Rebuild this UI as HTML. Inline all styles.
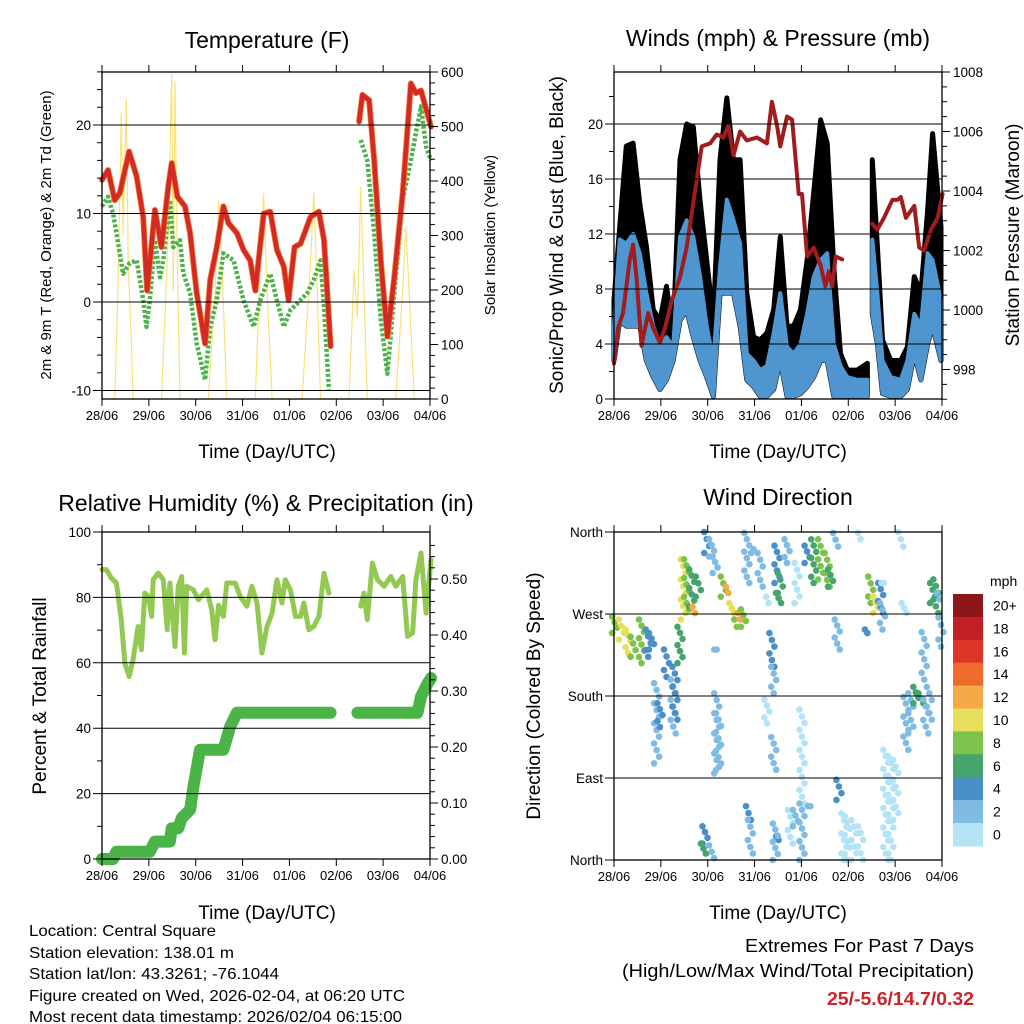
<!DOCTYPE html>
<html><head><meta charset="utf-8"><title>Weather station charts</title>
<style>
html,body{margin:0;padding:0;background:#fff;}
svg{display:block;font-family:"Liberation Sans",Arial,sans-serif;}
</style></head>
<body>
<svg id="chart" width="1024" height="1024" viewBox="0 0 1024 1024" xmlns="http://www.w3.org/2000/svg">
<g id="static">
<text x="267" y="48" font-size="23" text-anchor="middle">Temperature (F)</text>
<text x="778" y="46" font-size="23" text-anchor="middle">Winds (mph) &amp; Pressure (mb)</text>
<text x="266" y="511" font-size="23" text-anchor="middle">Relative Humidity (%) &amp; Precipitation (in)</text>
<text x="778" y="505" font-size="23" text-anchor="middle">Wind Direction</text>
<text x="267" y="458" font-size="19" text-anchor="middle">Time (Day/UTC)</text>
<text x="778" y="458" font-size="19" text-anchor="middle">Time (Day/UTC)</text>
<text x="267" y="919" font-size="19" text-anchor="middle">Time (Day/UTC)</text>
<text x="778" y="919" font-size="19" text-anchor="middle">Time (Day/UTC)</text>
<text transform="translate(51,235) rotate(-90)" font-size="15" text-anchor="middle">2m &amp; 9m T (Red, Orange) &amp; 2m Td (Green)</text>
<text transform="translate(495,235) rotate(-90)" font-size="15" text-anchor="middle">Solar Insolation (Yellow)</text>
<text transform="translate(563,235) rotate(-90)" font-size="19" text-anchor="middle">Sonic/Prop Wind &amp; Gust (Blue, Black)</text>
<text transform="translate(1019,235) rotate(-90)" font-size="19" text-anchor="middle">Station Pressure (Maroon)</text>
<text transform="translate(46,696) rotate(-90)" font-size="19" text-anchor="middle">Percent &amp; Total Rainfall</text>
<text transform="translate(540,696) rotate(-90)" font-size="19" text-anchor="middle">Direction (Colored By Speed)</text>
<g font-size="16">
<text x="29" y="936" textLength="187" lengthAdjust="spacingAndGlyphs">Location: Central Square</text>
<text x="29" y="958" textLength="205" lengthAdjust="spacingAndGlyphs">Station elevation: 138.01 m</text>
<text x="29" y="979" textLength="250" lengthAdjust="spacingAndGlyphs">Station lat/lon: 43.3261; -76.1044</text>
<text x="29" y="1001" textLength="376" lengthAdjust="spacingAndGlyphs">Figure created on Wed, 2026-02-04, at 06:20 UTC</text>
<text x="29" y="1022" textLength="373" lengthAdjust="spacingAndGlyphs">Most recent data timestamp: 2026/02/04 06:15:00</text>
</g>
<g font-size="18">
<text x="745" y="952" textLength="229" lengthAdjust="spacingAndGlyphs">Extremes For Past 7 Days</text>
<text x="622" y="977" textLength="352" lengthAdjust="spacingAndGlyphs">(High/Low/Max Wind/Total Precipitation)</text>
<text x="827" y="1005" textLength="147" lengthAdjust="spacingAndGlyphs" fill="#cc2229" font-weight="bold">25/-5.6/14.7/0.32</text>
</g>
</g>
</svg>
<script>
// ---------- data ----------
const dayLabels = ["28/06","29/06","30/06","31/06","01/06","02/06","03/06","04/06"];
// temperature (hours since start, degF)
const tempHours = [0,3.1,6.5,9.1,13.9,17.7,21.1,23.1,27.1,30.5,33.9,35.7,38.6,42.5,45.1,48.5,52.8,55.4,58.8,62.2,64.8,69.1,72.5,75.9,78.5,82.8,86.2,89.6,93.1,95.6,98.6,101.7,106.8,111.1,113.7,117.1,null,131.7,133.4,136.8,139.4,142.8,146.2,149.7,154.0,158.2,160.8,163.4,168.5];
const tempValues = [13.8,14.9,11.5,12.3,17.0,14.2,9.6,1.3,10.4,6.2,13.0,15.7,11.9,10.8,7.8,1.0,-4.7,2.5,6.2,10.8,8.9,7.8,5.9,4.7,1.3,10.0,10.2,5.9,4.0,0.2,6.2,6.6,9.6,10.2,7.0,-5.0,null,20.4,23.4,22.8,16.0,4.7,-3.9,2.8,12.3,24.7,23.6,23.9,19.8];
const dewHours = [0,3.1,5.7,9.1,10.8,14.2,17.7,21.1,22.8,24.5,27.1,29.7,31.4,34.8,36.5,39.9,41.7,45.1,48.5,52.8,55.4,58.8,62.2,67.4,72.5,77.7,81.1,86.2,89.6,93.1,96.5,99.9,105.1,108.5,111.9,113.7,116.2,null,132.5,135.9,139.4,142.8,146.2,149.7,154.0,158.2,160.8,163.4,166.0,168.5];
const dewValues = [10.8,11.9,10.0,5.5,3.2,4.4,4.7,0.2,-2.8,0.2,7.0,2.8,4.7,11.5,6.2,7.0,3.2,1.0,-4.7,-8.8,-2.8,0.2,5.5,4.7,0.2,-2.8,0.2,3.2,0.2,-2.8,-0.9,-0.2,1.0,2.5,4.7,-0.5,-9.9,null,18.3,16.0,7.8,-2.0,-8.1,1.0,11.5,16.0,19.1,22.1,17.5,16.0];
const solarHours = [0,6.5,8.2,9.9,10.8,12.5,13.4,15.1,15.9,30.5,32.2,33.9,35.7,36.5,37.4,38.6,39.9,54.5,58.0,59.7,61.4,63.9,78.5,81.1,82.8,84.5,87.1,102.5,106.8,108.5,110.2,111.9,126.5,129.1,130.8,132.5,134.2,135.9,150.5,154.0,155.6,157.3,159.9,168];
const solarValues = [0,0,200,525,300,549,250,100,0,0,150,300,598,200,583,250,0,0,200,365,250,0,0,250,378,200,0,0,250,378,200,0,0,236,150,389,200,0,0,200,316,200,0,0];
// winds
const windHours = [0,2.9,6.3,9.8,13.2,16.6,20.1,23.5,26.9,30.3,33.8,37.2,40.6,44.1,47.5,50.9,54.3,57.8,61.2,64.6,68.0,71.5,74.9,78.3,81.8,85.2,88.6,92.0,95.5,98.9,102.3,105.8,109.2,112.6,116.0,119.5,124.6,129.8,null,132.3,134.9,137.5,141.8,146.9,150.3,153.8,157.2,160.6,163.2,167.5];
const gustHigh = [7.2,12.5,18.4,18.6,14.2,11.1,6.5,5.7,8.2,4.8,17.4,20.0,19.8,14.4,10.1,5.7,17.4,21.9,17.4,17.4,7.7,4.5,4.3,4.8,6.5,11.8,5.3,5.3,6.5,10.1,15.0,20.3,18.6,9.6,3.3,2.1,2.1,2.6,null,17.4,11.1,4.3,2.8,2.8,3.8,8.9,7.7,13.7,19.3,12.5];
const windHigh = [5.3,11.6,11.3,12.0,10.6,7.7,5.3,4.0,4.5,3.8,11.8,13.0,11.8,8.9,5.3,2.8,9.6,14.5,13.0,11.3,3.3,2.8,2.1,2.4,4.8,7.7,3.8,3.3,4.0,6.2,8.9,10.1,10.6,4.0,2.4,1.6,1.4,1.4,null,11.6,7.7,2.8,1.6,1.4,2.8,6.2,5.3,10.6,10.1,7.2];
const windLow = [2.8,5.7,5.3,5.3,5.3,2.8,1.6,0.7,1.4,2.8,5.7,6.5,4.5,2.8,1.6,0.2,7.7,7.7,7.7,5.3,1.4,0.9,0.2,0.2,0.7,2.8,0.2,0.2,0.4,0.9,1.6,2.8,2.8,0.2,0.2,0.2,0.2,0.2,null,6.2,4.0,0.4,0.2,0.2,0.7,3.3,1.4,4.0,5.3,2.8];
const presHours = [0,2.1,4.6,8.1,9.8,11.5,14.1,17.5,20.1,23.5,26.1,29.5,33.8,37.2,40.6,44.9,49.2,52.6,56.1,58.6,61.2,64.6,68.0,73.2,78.3,80.9,83.5,85.2,88.6,91.2,94.6,96.3,98.9,102.3,105.8,108.3,110.0,111.8,113.5,116.9,null,132.3,134.9,138.3,142.6,145.2,146.9,149.5,153.8,156.3,158.9,162.3,165.8,168.3];
const presValues = [998.2,999.4,999.9,1001.7,1002.2,1001.1,998.8,999.9,999.4,998.9,999.4,1000.3,1001.1,1002.1,1003.6,1005.5,1005.6,1005.9,1005.8,1006.2,1005.2,1006.0,1005.7,1005.8,1005.6,1007.0,1006.2,1005.5,1006.5,1006.4,1003.9,1003.9,1001.8,1002.1,1001.5,1000.8,1001.3,1000.8,1001.8,1001.7,null,1002.9,1002.7,1003.1,1003.7,1003.7,1003.8,1003.1,1003.5,1002.1,1002.0,1002.7,1003.1,1003.9];
// humidity & rain
const rhHours = [0,2.2,4.8,7.4,9.9,11.7,13.9,15.9,18.5,20.2,21.9,23.7,25.4,26.2,28.8,31.4,33.4,34.8,37.4,39.1,40.8,42.2,43.4,46.8,49.4,53.7,56.2,57.9,59.7,62.2,63.9,68.2,70.8,74.2,76.8,79.4,81.9,84.5,87.1,89.6,92.2,93.9,96.5,99.1,101.7,103.4,105.9,108.5,111.1,113.7,116.2,null,132.5,134.2,135.9,138.5,141.1,144.5,147.9,150.5,154.0,156.5,159.1,160.8,163.4,166.0,168.5];
const rhValues = [88.5,88.5,85.9,84.4,73.2,59.9,55.8,60.9,71.1,64.0,81.3,80.3,74.2,85.4,87.4,85.4,70.1,84.4,65.0,83.4,86.4,63.0,83.4,82.3,79.3,82.3,76.2,67.0,77.6,74.2,84.4,84.4,80.3,77.3,83.4,78.3,63.0,71.1,75.2,85.4,78.3,85.4,82.3,74.2,74.2,78.3,70.1,71.1,74.2,87.4,81.3,null,77.3,81.3,73.2,90.5,85.4,83.4,86.4,83.4,86.4,68.1,69.1,85.4,93.6,75.2,91.5];
const rainHours = [0,5.7,7.4,24.5,27.1,34.8,35.7,39.1,40.8,45.1,46.8,50.2,62.2,65.6,69.1,117.1,null,130.8,161.6,163.4,166.8,168.5];
const rainValues = [0,0,0.013,0.013,0.031,0.031,0.055,0.055,0.073,0.088,0.129,0.195,0.195,0.236,0.261,0.261,null,0.261,0.261,0.29,0.314,0.323];
// wind direction clusters: hour, dir range (deg), speed (mph)
const dirHours = [0.3,3.8,7.2,9.8,14.1,17.5,19.2,21.8,23.5,26.9,30.3,31.2,33.8,35.5,37.2,39.8,41.5,43.2,47.5,50.0,51.8,52.6,52.6,53.5,56.0,58.6,60.3,62.9,64.6,66.3,46.6,45.8,50.0,68.9,69.8,71.5,74.9,68.0,79.2,80.9,81.8,83.5,85.2,84.3,78.3,81.8,84.3,82.6,88.6,93.8,90.3,92.9,96.3,96.3,100.6,98.9,102.3,105.8,109.2,110.9,113.5,115.2,117.8,119.5,122.9,126.3,114.3,126.3,131.5,134.0,136.6,137.5,129.8,138.3,139.2,141.8,144.3,146.9,148.6,149.5,152.0,154.6,157.2,159.7,161.5,163.2,164.9,166.6,167.5,158.9];
const dirLow = [249,242,227,223,216,223,231,106,146,201,139,154,216,264,275,278,271,289,337,333,315,231,95,99,289,293,271,256,264,256,18,7,2,44,7,341,300,304,282,212,183,304,293,282,150,99,22,0,326,282,18,37,62,0,59,326,304,308,300,300,344,66,0,0,0,0,231,352,282,271,271,253,249,304,0,0,44,344,271,121,139,172,172,139,154,282,271,286,234,198];
const dirHigh = [267,264,253,245,264,253,249,194,172,231,198,212,256,330,330,319,278,311,360,352,333,231,183,161,311,300,282,264,271,275,37,18,16,59,44,337,337,359,289,249,212,345,315,293,176,135,26,40,352,326,55,55,165,62,59,345,352,352,337,319,359,88,51,48,44,37,264,359,311,289,304,282,253,304,121,114,110,360,282,179,183,190,183,176,190,304,308,293,266,250];
const dirSpeed = [8,10,10,8,8,5,4,3,4,4,3,4,7,10,9,6,12,7,4,3,2,2,2,3,8,13,10,9,12,8,4,6,3,4,2,2,2,2,1,4,2,4,7,6,1,2,4,3,2,1,1,2,1,3,2,4,6,8,9,7,2,4,1,1,1,1,2,1,9,10,4,3,4,1,1,1,1,1,1,2,3,6,7,3,3,7,6,3,3,2];
const speedColors = ["#b5e3f6","#80bbe3","#4a8fc8","#46a56c","#7cc24b","#e6e05a","#f6a947","#ef6a2d","#de352b","#c21f27","#8d1619"];
const speedLabels = ["0","2","4","6","8","10","12","14","16","18","20+"];

// ---------- helpers ----------
const NS = "http://www.w3.org/2000/svg";
const svg = document.getElementById("chart");
function mk(tag, attrs, parent){
  const e = document.createElementNS(NS, tag);
  for (const k in attrs) e.setAttribute(k, attrs[k]);
  (parent || svg).appendChild(e);
  return e;
}
function pathFrom(hs, vs, sx, sy){
  let d = "", pen = false;
  for (let i = 0; i < hs.length; i++){
    if (hs[i] === null || vs[i] === null){ pen = false; continue; }
    d += (pen ? "L" : "M") + sx(hs[i]).toFixed(1) + "," + sy(vs[i]).toFixed(1);
    pen = true;
  }
  return d;
}
function bandFrom(hs, hi, lo, sx, sy){
  let d = "", seg = [];
  const flush = () => {
    if (seg.length > 1){
      d += "M" + seg.map(i => sx(hs[i]).toFixed(1) + "," + sy(hi[i]).toFixed(1)).join("L");
      d += "L" + seg.slice().reverse().map(i => sx(hs[i]).toFixed(1) + "," + sy(lo[i]).toFixed(1)).join("L") + "Z";
    }
    seg = [];
  };
  for (let i = 0; i < hs.length; i++){ if (hs[i] === null) flush(); else seg.push(i); }
  flush();
  return d;
}

const T0 = 0, T1 = 168;
function makeX(left, right){ return h => left + (h - T0) / (T1 - T0) * (right - left); }

function frame(name, L, T, R, B, xs, leftTicks, rightTicks){
  const g = mk("g", {});
  
  
  dayLabels.forEach((lab, i) => {
    const x = xs(i * 24);
    mk("line", {x1:x, y1:T-7, x2:x, y2:T, stroke:"#000", "stroke-width":1}, g);
    mk("line", {x1:x, y1:B, x2:x, y2:B+7, stroke:"#000", "stroke-width":1}, g);
    const t = mk("text", {x:x, y:B+21, "font-size":13, "text-anchor":"middle"}, g);
    
    
    t.textContent = lab;
  });
  leftTicks.forEach(tk => {
    if (tk.grid) mk("line", {x1:L-9, y1:tk.y, x2:R, y2:tk.y, stroke:"#000", "stroke-width":1}, g);
    else mk("line", {x1:L-(tk.major?9:5), y1:tk.y, x2:L, y2:tk.y, stroke:"#000", "stroke-width":1}, g);
    if (tk.label !== undefined){
      const t = mk("text", {x:L-11, y:tk.y+5, "font-size":13.5, "text-anchor":"end"}, g);
      
      
      t.textContent = tk.label;
    }
  });
  rightTicks.forEach(tk => {
    mk("line", {x1:R, y1:tk.y, x2:R+(tk.major?8:5), y2:tk.y, stroke:"#000", "stroke-width":1}, g);
    if (tk.label !== undefined){
      const t = mk("text", {x:R+11, y:tk.y+5, "font-size":13.5, "text-anchor":"start"}, g);
      
      
      t.textContent = tk.label;
    }
  });
  mk("rect", {x:L, y:T, width:R-L, height:B-T, fill:"none", stroke:"#000", "stroke-width":1.3}, g);
}

// ---------- Panel 1: temperature ----------
(function(){
  const L=102,R=430,T=72,B=399;
  const x = makeX(L,R);
  const y = v => 302 - v * 8.85;
  const ys = v => B - v / 600 * (B - T);
  const lt = [], rt = [];
  for (let v = -10; v <= 26; v += 2){ const maj = v % 10 === 0; lt.push({y:y(v), major:maj, grid:maj, label: maj ? String(v) : undefined}); }
  for (let v = 0; v <= 600; v += 20){ const maj = v % 100 === 0; rt.push({y:ys(v), major:maj, label: maj ? String(v) : undefined}); }
  const g = mk("g", {});
  
  
  const sol = mk("path", {d:pathFrom(solarHours, solarValues, x, ys), fill:"none", stroke:"#f9e27a", "stroke-width":1.2}, g);
  
  
  const dew = mk("path", {d:pathFrom(dewHours, dewValues, x, y), fill:"none", stroke:"#4cb34a", "stroke-width":4.5, "stroke-dasharray":"3 2", "stroke-linejoin":"round"}, g);
  
  
  const t9 = mk("path", {d:pathFrom(tempHours, tempValues, x, y), fill:"none", stroke:"#f28230", "stroke-width":6, "stroke-linejoin":"round", "stroke-linecap":"round"}, g);
  
  
  const t2 = mk("path", {d:pathFrom(tempHours, tempValues, x, y), fill:"none", stroke:"#d42a26", "stroke-width":4.5, "stroke-linejoin":"round", "stroke-linecap":"round"}, g);
  
  
  frame("temperature", L,T,R,B,x,lt,rt);
})();

// ---------- Panel 2: winds ----------
(function(){
  const L=614,R=942,T=72,B=399;
  const x = makeX(L,R);
  const y = v => B - v * 13.75;
  const yp = p => T + (1008 - p) * 29.75;
  const g = mk("g", {});
  
  
  const lt = [], rt = [];
  for (let v = 0; v <= 23; v += 2){ const maj = v % 4 === 0; lt.push({y:y(v), major:maj, grid:maj && v>0, label: maj ? String(v) : undefined}); }
  for (let p = 997; p <= 1008; p += 0.5){ const maj = Math.abs(p % 2) < 0.01; rt.push({y:yp(p), major:maj, label: maj ? String(p) : undefined}); }
  lt.forEach(tk => { if (tk.grid) mk("line", {x1:L, y1:tk.y, x2:R, y2:tk.y, stroke:"#000", "stroke-width":1}, g); });
  const gust = mk("path", {d:bandFrom(windHours, gustHigh, windLow, x, y), fill:"#000", stroke:"#000", "stroke-width":5, "stroke-linejoin":"round"}, g);
  
  
  const wind = mk("path", {d:bandFrom(windHours, windHigh, windLow, x, y), fill:"#4f96d0", stroke:"#4f96d0", "stroke-width":4, "stroke-linejoin":"round"}, g);
  
  
  const pr = mk("path", {d:pathFrom(presHours, presValues, x, yp), fill:"none", stroke:"#a11c1d", "stroke-width":4, "stroke-linejoin":"round", "stroke-linecap":"round"}, g);
  
  
  frame("winds", L,T,R,B,x,lt,rt);
})();

// ---------- Panel 3: humidity & rain ----------
(function(){
  const L=102,R=430,T=532,B=859;
  const x = makeX(L,R);
  const y = v => B - v * (B - T) / 100;
  const yr = r => B - r * 560;
  const lt = [], rt = [];
  for (let v = 0; v <= 100; v += 10){ const maj = v % 20 === 0; lt.push({y:y(v), major:maj, grid:maj && v>0 && v<100, label: maj ? String(v) : undefined}); }
  for (let r = 0; r <= 0.58; r += 0.02){ const maj = Math.round(r*100) % 10 === 0; rt.push({y:yr(r), major:maj, label: maj ? r.toFixed(2) : undefined}); }
  const g = mk("g", {});
  
  
  const rh = mk("path", {d:pathFrom(rhHours, rhValues, x, y), fill:"none", stroke:"#93c952", "stroke-width":5, "stroke-linejoin":"round", "stroke-linecap":"round"}, g);
  
  
  const rn = mk("path", {d:pathFrom(rainHours, rainValues, x, yr), fill:"none", stroke:"#4ab446", "stroke-width":12, "stroke-linejoin":"round", "stroke-linecap":"round"}, g);
  
  
  frame("humidity", L,T,R,B,x,lt,rt);
})();

// ---------- Panel 4: wind direction ----------
(function(){
  const L=614,R=942,T=532,B=860;
  const x = makeX(L,R);
  const y = d => B - d / 360 * (B - T);
  const names = ["North","East","South","West","North"];
  const lt = [];
  for (let d = 0; d <= 360; d += 90){ lt.push({y:y(d), major:true, grid:d>0 && d<360, label:names[d/90]}); }
  const g = mk("g", {});
  
  
  lt.forEach(tk => { if (tk.grid) mk("line", {x1:L, y1:tk.y, x2:R, y2:tk.y, stroke:"#000", "stroke-width":1}, g); });
  for (let i = 0; i < dirHours.length; i++){
    const cx = x(dirHours[i]);
    const y1 = y(dirHigh[i]), y2 = y(dirLow[i]);
    const n = Math.max(1, Math.round((y2 - y1) / 6.5));
    const col = speedColors[Math.min(10, Math.floor(dirSpeed[i] / 2))];
    for (let k = 0; k <= n; k++){
      const cy = y1 + (y2 - y1) * k / n;
      const c = mk("circle", {cx:(cx + ((k % 3) - 1) * 2.5).toFixed(1), cy:cy.toFixed(1), r:3.3, fill:col}, g);
      
      
    }
  }
  frame("direction", L,T,R,B,x,lt,[]);
  const cb = mk("g", {});
  
  
  const t = mk("text", {x:990, y:586, "font-size":14}, cb);
  
  
  t.textContent = "mph";
  const top = 594, h = 22.9;
  for (let j = 0; j < 11; j++){
    const idx = 10 - j;
    const r = mk("rect", {x:953, y:(top + j*h).toFixed(1), width:30, height:(h+0.5).toFixed(1), fill:speedColors[idx]}, cb);
    
    
    const lab = mk("text", {x:993, y:(top + j*h + h/2 + 5).toFixed(1), "font-size":14}, cb);
    
    
    lab.textContent = speedLabels[idx];
  }
})();
</script>
</body></html>
